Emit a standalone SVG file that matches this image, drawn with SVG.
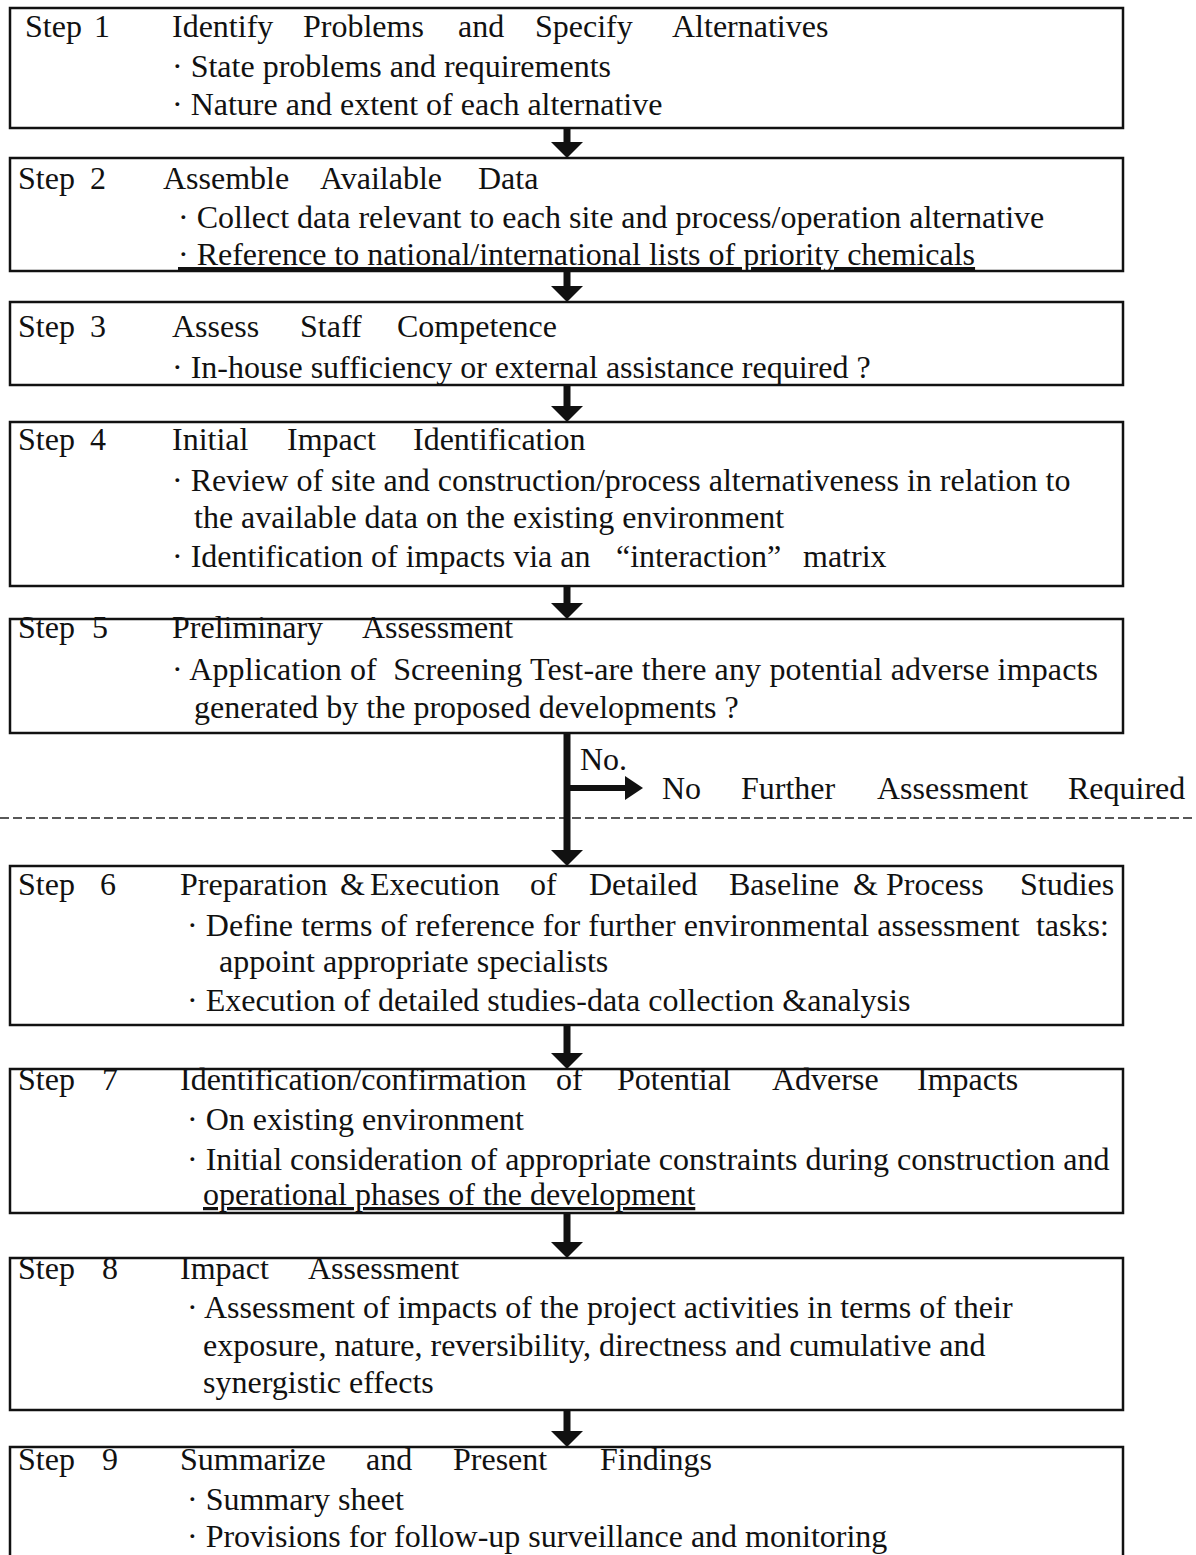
<svg xmlns="http://www.w3.org/2000/svg" width="1196" height="1555" viewBox="0 0 1196 1555">
<style>
.box{fill:none;stroke:#111;stroke-width:2.5}
.t{font-family:"Liberation Serif","Times New Roman",serif;font-size:32px;fill:#111}
.u{text-decoration:underline}
.conn{stroke:#111;stroke-width:7;fill:none}
.dash{stroke:#222;stroke-width:1.5;stroke-dasharray:9 4;fill:none}
</style>
<defs>
<marker id="head" viewBox="0 0 16 32" refX="0" refY="16" markerWidth="16" markerHeight="32" markerUnits="userSpaceOnUse" orient="auto">
<path d="M0,0 L16,16 L0,32 z" fill="#111"/>
</marker>
<marker id="headS" viewBox="0 0 18 24" refX="0" refY="12" markerWidth="18" markerHeight="24" markerUnits="userSpaceOnUse" orient="auto">
<path d="M0,0 L18,12 L0,24 z" fill="#111"/>
</marker>
</defs>

<g id="step1">
<rect class="box" x="10" y="8" width="1113" height="120"/>
<text class="t" y="37"><tspan x="25">Step</tspan><tspan x="94">1</tspan><tspan x="172">Identify</tspan><tspan x="303">Problems</tspan><tspan x="458">and</tspan><tspan x="535">Specify</tspan><tspan x="672">Alternatives</tspan></text>
<text class="t" x="172" y="77">· State problems and requirements</text>
<text class="t" x="172" y="115">· Nature and extent of each alternative</text>
</g>

<g id="step2">
<rect class="box" x="10" y="158" width="1113" height="113"/>
<text class="t" y="189"><tspan x="18">Step</tspan><tspan x="90">2</tspan><tspan x="163">Assemble</tspan><tspan x="320">Available</tspan><tspan x="478">Data</tspan></text>
<text class="t" x="178" y="228">· Collect data relevant to each site and process/operation alternative</text>
<text class="t u" x="178" y="265">· Reference to national/international lists of priority chemicals</text>
</g>

<g id="step3">
<rect class="box" x="10" y="302" width="1113" height="83"/>
<text class="t" y="337"><tspan x="18">Step</tspan><tspan x="90">3</tspan><tspan x="172">Assess</tspan><tspan x="300">Staff</tspan><tspan x="397">Competence</tspan></text>
<text class="t" x="172" y="378">· In-house sufficiency or external assistance required ?</text>
</g>

<g id="step4">
<rect class="box" x="10" y="422" width="1113" height="164"/>
<text class="t" y="450"><tspan x="18">Step</tspan><tspan x="90">4</tspan><tspan x="172">Initial</tspan><tspan x="287">Impact</tspan><tspan x="413">Identification</tspan></text>
<text class="t" x="172" y="491">· Review of site and construction/process alternativeness in relation to</text>
<text class="t" x="194" y="528">the available data on the existing environment</text>
<text class="t" y="567"><tspan x="172">· Identification of impacts via an</tspan><tspan x="616">“interaction”</tspan><tspan x="803">matrix</tspan></text>
</g>

<g id="step5">
<rect class="box" x="10" y="619" width="1113" height="114"/>
<text class="t" y="638"><tspan x="18">Step</tspan><tspan x="92">5</tspan><tspan x="172">Preliminary</tspan><tspan x="362">Assessment</tspan></text>
<text class="t" x="172" y="680" xml:space="preserve" textLength="926" lengthAdjust="spacing">· Application of  Screening Test-are there any potential adverse impacts</text>
<text class="t" x="194" y="718">generated by the proposed developments ?</text>
</g>

<g id="no-further">
<text class="t" x="580" y="770">No.</text>
<text class="t" y="799"><tspan x="662">No</tspan><tspan x="741">Further</tspan><tspan x="877">Assessment</tspan><tspan x="1068">Required</tspan></text>
</g>

<g id="step6">
<rect class="box" x="10" y="866" width="1113" height="159"/>
<text class="t" y="895"><tspan x="18">Step</tspan><tspan x="100">6</tspan><tspan x="180">Preparation</tspan><tspan x="340">&amp;</tspan><tspan x="370">Execution</tspan><tspan x="530">of</tspan><tspan x="589">Detailed</tspan><tspan x="729">Baseline</tspan><tspan x="853">&amp;</tspan><tspan x="886">Process</tspan><tspan x="1020">Studies</tspan></text>
<text class="t" x="187" y="936" xml:space="preserve" textLength="922" lengthAdjust="spacing">· Define terms of reference for further environmental assessment  tasks:</text>
<text class="t" x="219" y="972">appoint appropriate specialists</text>
<text class="t" x="187" y="1011">· Execution of detailed studies-data collection &amp;analysis</text>
</g>

<g id="step7">
<rect class="box" x="10" y="1069" width="1113" height="144"/>
<text class="t" y="1090"><tspan x="18">Step</tspan><tspan x="102">7</tspan><tspan x="180">Identification/confirmation</tspan><tspan x="556">of</tspan><tspan x="617">Potential</tspan><tspan x="772">Adverse</tspan><tspan x="917">Impacts</tspan></text>
<text class="t" x="187" y="1130">· On existing environment</text>
<text class="t" x="187" y="1170">· Initial consideration of appropriate constraints during construction and</text>
<text class="t u" x="203" y="1205">operational phases of the development</text>
</g>

<g id="step8">
<rect class="box" x="10" y="1258" width="1113" height="152"/>
<text class="t" y="1279"><tspan x="18">Step</tspan><tspan x="102">8</tspan><tspan x="180">Impact</tspan><tspan x="308">Assessment</tspan></text>
<text class="t" x="187" y="1318">· Assessment of impacts of the project activities in terms of their</text>
<text class="t" x="203" y="1356">exposure, nature, reversibility, directness and cumulative and</text>
<text class="t" x="203" y="1393">synergistic effects</text>
</g>

<g id="step9">
<rect class="box" x="10" y="1447" width="1113" height="120"/>
<text class="t" y="1470"><tspan x="18">Step</tspan><tspan x="102">9</tspan><tspan x="180">Summarize</tspan><tspan x="366">and</tspan><tspan x="453">Present</tspan><tspan x="600">Findings</tspan></text>
<text class="t" x="187" y="1510">· Summary sheet</text>
<text class="t" x="187" y="1547">· Provisions for follow-up surveillance and monitoring</text>
</g>

<g id="connectors">
<line class="dash" x1="0" y1="818" x2="1196" y2="818"/>
<line class="conn" x1="567" y1="128" x2="567" y2="142" marker-end="url(#head)"/>
<line class="conn" x1="567" y1="271" x2="567" y2="286" marker-end="url(#head)"/>
<line class="conn" x1="567" y1="385" x2="567" y2="406" marker-end="url(#head)"/>
<line class="conn" x1="567" y1="586" x2="567" y2="603" marker-end="url(#head)"/>
<line class="conn" x1="567" y1="733" x2="567" y2="850" marker-end="url(#head)"/>
<line class="conn" x1="567" y1="1025" x2="567" y2="1053" marker-end="url(#head)"/>
<line class="conn" x1="567" y1="1213" x2="567" y2="1242" marker-end="url(#head)"/>
<line class="conn" x1="567" y1="1410" x2="567" y2="1431" marker-end="url(#head)"/>
<line class="conn" style="stroke-width:6" x1="570" y1="788" x2="625" y2="788" marker-end="url(#headS)"/>
</g>
</svg>
